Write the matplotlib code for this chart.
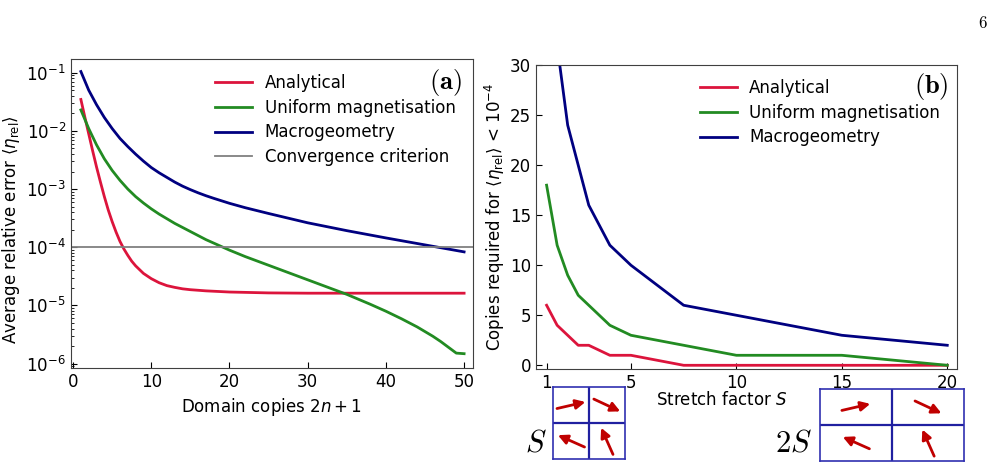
import numpy as np
import matplotlib
matplotlib.use('Agg')
import matplotlib.pyplot as plt
from matplotlib.transforms import offset_copy

plt.rcParams['font.size'] = 12

x_analytical = [1, 1.5, 2, 2.5, 3, 3.5, 4, 4.5, 5, 5.5, 6, 6.5, 7, 7.5, 8, 9, 10,
                11, 12, 13, 14, 15, 17, 20, 25, 30, 40, 50]
err_analytical = [-1.46, -1.76, -2.05, -2.34, -2.62, -2.88, -3.13, -3.36, -3.56, -3.74,
                  -3.90, -4.03, -4.14, -4.24, -4.32, -4.45, -4.54, -4.61, -4.66, -4.69,
                  -4.715, -4.73, -4.75, -4.77, -4.785, -4.79, -4.79, -4.79]
x_uniform = [1, 2, 3, 4, 5, 6, 7, 8, 9, 10, 11, 12, 13, 14, 15, 16, 17, 18, 20, 22,
             25, 30, 35, 38, 40, 42, 44, 46, 47, 48, 49, 50]
err_uniform = [-1.64, -1.96, -2.24, -2.48, -2.68, -2.85, -3.00, -3.13, -3.24, -3.34,
               -3.43, -3.51, -3.59, -3.66, -3.73, -3.80, -3.87, -3.93, -4.05, -4.16,
               -4.31, -4.56, -4.81, -4.98, -5.10, -5.23, -5.37, -5.53, -5.62, -5.72,
               -5.82, -5.83]
x_macro = [1, 2, 3, 4, 5, 6, 7, 8, 9, 10, 11, 12, 13, 14, 15, 16, 17, 18, 20, 22,
           25, 30, 35, 40, 45, 50]
err_macro = [-0.98, -1.30, -1.55, -1.77, -1.96, -2.13, -2.27, -2.40, -2.52, -2.63,
             -2.72, -2.80, -2.88, -2.95, -3.01, -3.065, -3.115, -3.16, -3.245, -3.32,
             -3.42, -3.58, -3.715, -3.84, -3.96, -4.08]
criterion = 1e-4

# (b) copies needed to reach criterion vs stretch factor
stretch = [1, 1.5, 2, 2.5, 3, 4, 5, 7.5, 10, 15, 20]
need_analytical = [6, 4, 3, 2, 2, 1, 1, 0, 0, 0, 0]
need_uniform = [18, 12, 9, 7, 6, 4, 3, 2, 1, 1, 0]
need_macro = [48, 32, 24, 20, 16, 12, 10, 6, 5, 3, 2]

# magnetisation directions in the 2x2 sketch (deg), TL, TR, BL, BR
arrow_angles = [13, -25, 156, 114]

c_red = '#DC143C'
c_green = '#228B22'
c_blue = '#000080'
c_gray = '#808080'

fig = plt.figure(figsize=(9.96, 4.68), dpi=100)
ax1 = fig.add_axes([0.071, 0.2137, 0.4036, 0.6596])
ax2 = fig.add_axes([0.5382, 0.2109, 0.4224, 0.650])

ax1.plot(x_analytical, 10 ** np.array(err_analytical), color=c_red, lw=2, label='Analytical')
ax1.plot(x_uniform, 10 ** np.array(err_uniform), color=c_green, lw=2, label='Uniform magnetisation')
ax1.plot(x_macro, 10 ** np.array(err_macro), color=c_blue, lw=2, label='Macrogeometry')
ax1.axhline(criterion, color=c_gray, lw=1.3, label='Convergence criterion')
ax1.set_yscale('log')
ax1.set_xlim(-0.3, 51.1)
ax1.set_ylim(8.4e-7, 0.17)
ax1.set_xticks([0, 10, 20, 30, 40, 50])
ax1.set_xlabel(r'Domain copies $2n+1$')
ax1.set_ylabel(r'Average relative error $\langle\eta_{\rm rel}\rangle$')
ax1.yaxis.set_label_coords(-0.12, 0.447)
ax1.legend(loc='upper left', bbox_to_anchor=(0.36, 0.953), frameon=False,
           borderaxespad=0, borderpad=0, handlelength=2.2, handletextpad=0.75,
           labelspacing=0.41)
ax1.text(0.931, 0.926, r'$\mathbf{(a)}$', transform=ax1.transAxes, ha='center',
         va='center', fontsize=19, math_fontfamily='cm')

ax2.plot(stretch, need_analytical, color=c_red, lw=2, label='Analytical')
ax2.plot(stretch, need_uniform, color=c_green, lw=2, label='Uniform magnetisation')
ax2.plot(stretch, need_macro, color=c_blue, lw=2, label='Macrogeometry')
ax2.set_xlim(0.5, 20.45)
ax2.set_ylim(-0.4, 30)
ax2.set_xticks([1, 5, 10, 15, 20])
ax2.set_yticks([0, 5, 10, 15, 20, 25, 30])
ax2.set_xlabel(r'Stretch factor $S$')
ax2.xaxis.set_label_coords(0.441, -0.07)
ax2.set_ylabel(r'Copies required for $\langle\eta_{\rm rel}\rangle$ < $10^{-4}$')
ax2.yaxis.set_label_coords(-0.069, 0.5)
ax2.legend(loc='upper left', bbox_to_anchor=(0.39, 0.955), frameon=False,
           borderaxespad=0, borderpad=0, handlelength=2.2, handletextpad=0.75,
           labelspacing=0.41)
ax2.text(0.939, 0.931, r'$\mathbf{(b)}$', transform=ax2.transAxes, ha='center',
         va='center', fontsize=19, math_fontfamily='cm')

for ax in (ax1, ax2):
    ax.tick_params(which='both', direction='in', top=False, right=False)
    ax.tick_params(which='major', length=4)
    ax.tick_params(which='minor', length=2)
    for sp in ax.spines.values():
        sp.set_color('#404040')

# sketches of the 2x2 unit cell, square and stretched
def sketch(rect):
    ax = fig.add_axes(rect)
    ax.set_xlim(0, 1)
    ax.set_ylim(0, 1)
    ax.set_xticks([])
    ax.set_yticks([])
    for sp in ax.spines.values():
        sp.set_color('#3030b0')
        sp.set_linewidth(1.2)
    ax.axvline(0.5, color='#2020a0', lw=1.6)
    ax.axhline(0.5, color='#2020a0', lw=1.6)
    centres = [(0.25, 0.75), (0.75, 0.75), (0.25, 0.25), (0.75, 0.25)]
    half = 10.5
    for (cx, cy), ang in zip(centres, arrow_angles):
        dx = half * np.cos(np.radians(ang))
        dy = half * np.sin(np.radians(ang))
        head = offset_copy(ax.transAxes, fig=fig, x=dx, y=dy, units='points')
        tail = offset_copy(ax.transAxes, fig=fig, x=-dx, y=-dy, units='points')
        ax.annotate('', xy=(cx, cy), xycoords=head, xytext=(cx, cy), textcoords=tail,
                    arrowprops=dict(arrowstyle='-|>', color='#c00000', lw=2,
                                    mutation_scale=14, shrinkA=0, shrinkB=0))
    return ax

sketch([0.5555, 0.0192, 0.072, 0.1532])
sketch([0.8233, 0.0156, 0.1449, 0.1526])
fig.text(0.538, 0.053, r'$S$', fontsize=22, math_fontfamily='cm', ha='center', va='center')
fig.text(0.797, 0.053, r'$2S$', fontsize=22, math_fontfamily='cm', ha='center', va='center')
fig.text(0.992, 0.97, r'$6$', fontsize=12, math_fontfamily='cm', ha='right', va='top')

fig.savefig('out.png', dpi=100)
